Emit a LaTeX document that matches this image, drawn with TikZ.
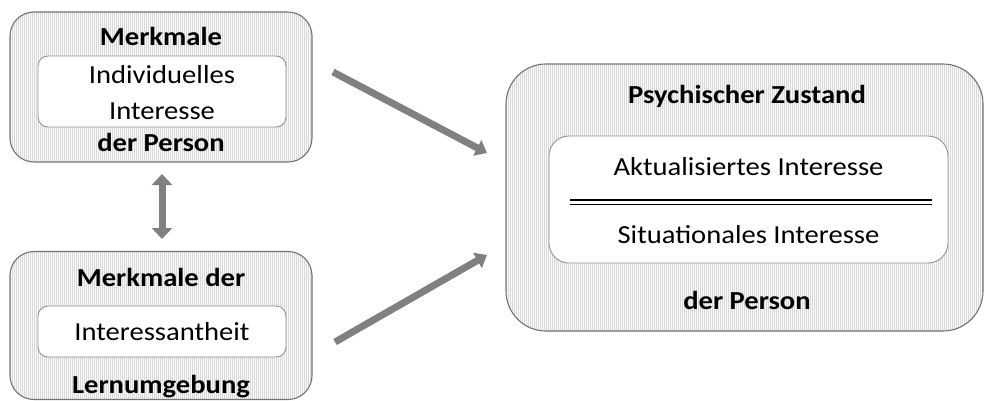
\documentclass[tikz,border=0pt]{standalone}
\usepackage{fontspec}
\setmainfont{Carlito}[FakeStretch=1.1]
\usetikzlibrary{arrows.meta,patterns.meta}
\begin{document}
\begin{tikzpicture}[x=1pt,y=-1pt,
  outerbox/.style={draw=gray!90!black,line width=1.1pt,rounded corners=#1,
    preaction={fill=gray!5},
    pattern={Lines[angle=90,distance=2pt,line width=0.6pt]},pattern color=gray!30,
    inner sep=0pt,outer sep=0pt},
  innerbox/.style={draw=gray!85,line width=0.9pt,fill=white,rounded corners=#1,inner sep=0pt,outer sep=0pt},
  txt/.style={font=\fontsize{26}{30}\selectfont,anchor=base,inner sep=0pt},
  btxt/.style={txt,font=\fontsize{26}{30}\selectfont\bfseries},
  bigarrow/.style={draw=gray,line width=7pt,-{Triangle[length=11pt,width=17pt]}},
  dblarrow/.style={draw=gray,line width=7pt,{Triangle[length=11pt,width=20pt]}-{Triangle[length=11pt,width=20pt]}}
]
\useasboundingbox (0,0) rectangle (985,400);
% box A
\node[outerbox=24pt,minimum width=302pt,minimum height=150pt] (A) at (161,87) {};
\node[innerbox=10pt,minimum width=248pt,minimum height=71pt] (Ai) at (162,91.5) {};
\node[btxt] (A1) at (161,45) {Merkmale};
\node[txt] (A2) at (162,83) {Individuelles};
\node[txt] (A3) at (162,119) {Interesse};
\node[btxt] (A4) at (161,151) {der Person};
% box B
\node[outerbox=24pt,minimum width=302pt,minimum height=148pt] (B) at (161,325.5) {};
\node[innerbox=10pt,minimum width=248pt,minimum height=51pt] (Bi) at (162,331.5) {};
\node[btxt] (B1) at (161,286.5) {Merkmale der};
\node[txt] (B2) at (162,340) {Interessantheit};
\node[btxt] (B3) at (161,393.5) {Lernumgebung};
% box C
\node[outerbox=40pt,minimum width=477pt,minimum height=267pt] (C) at (744.5,197.5) {};
\node[innerbox=20pt,minimum width=399pt,minimum height=127pt] (Ci) at (748.5,199.5) {};
\node[btxt] (C1) at (747,103) {Psychischer Zustand};
\node[txt] (C2) at (748.5,175) {Aktualisiertes Interesse};
\node[txt] (C3) at (748.5,243) {Situationales Interesse};
\node[btxt] (C4) at (747,309) {der Person};
\coordinate (L1a) at (570,200);
\coordinate (L1b) at (932,200);
\coordinate (L2a) at (570,204.5);
\coordinate (L2b) at (932,204.5);
\draw[line width=1.6pt] (L1a) -- (L1b);
\draw[line width=1.6pt] (L2a) -- (L2b);
% arrows
\coordinate (P1) at (333,72);
\coordinate (P2) at (487,153);
\coordinate (P3) at (335,342);
\coordinate (P4) at (487,255);
\coordinate (D1) at (162,174);
\coordinate (D2) at (162,239);
\draw[bigarrow] (P1) -- (P2);
\draw[bigarrow] (P3) -- (P4);
\draw[dblarrow] (D1) -- (D2);
\end{tikzpicture}
\end{document}
